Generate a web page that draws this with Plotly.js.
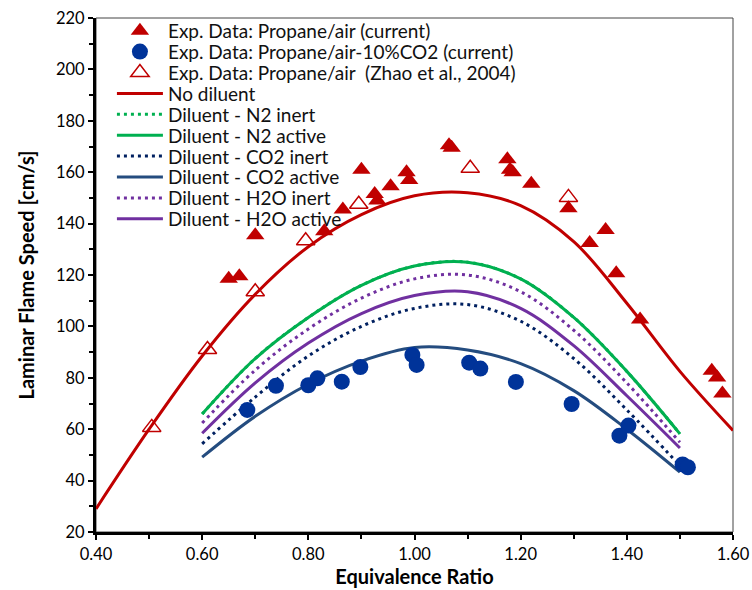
<!DOCTYPE html>
<html>
<head>
<meta charset="utf-8">
<script src="https://cdn.plot.ly/plotly-3.0.1.min.js"></script>
<style>
  html, body { margin: 0; padding: 0; background: #fff; }
  #chart { width: 752px; height: 590px; }
</style>
</head>
<body>
<div id="chart"></div>
<script>
// Experimental laminar flame speeds (equivalence ratio, cm/s)
const expCurrentPhi = [0.65, 0.67, 0.70, 0.83, 0.865, 0.90, 0.925, 0.93, 0.955, 0.985, 0.99, 1.065, 1.07,
                       1.175, 1.18, 1.185, 1.22, 1.29, 1.33, 1.36, 1.38, 1.425, 1.56, 1.57, 1.58];
const expCurrentSL  = [118.5, 119.5, 135.5, 137, 145.5, 161, 151.5, 149, 154.5, 160, 157, 170.5, 169.5,
                       165, 161, 160, 155.5, 146, 132.5, 137.5, 120.7, 102.7, 82.7, 80.1, 73.9];

const expCO2Phi = [0.685, 0.739, 0.80, 0.817, 0.863, 0.898, 0.996, 1.004, 1.103, 1.124, 1.191, 1.296,
                   1.386, 1.403, 1.505, 1.515];
const expCO2SL  = [67.5, 76.9, 77.1, 79.8, 78.5, 84.2, 88.9, 85.0, 85.9, 83.6, 78.4, 69.8,
                   57.5, 61.4, 46.3, 45.2];

const expZhaoPhi = [0.505, 0.61, 0.70, 0.795, 0.895, 1.105, 1.29];
const expZhaoSL  = [60.7, 91.0, 113.5, 133.3, 147.5, 161.5, 150.2];

// Computed flame speeds
const phiFull = [0.40, 0.50, 0.60, 0.70, 0.80, 0.90, 1.00, 1.10, 1.20, 1.30, 1.40, 1.50, 1.60];
const noDiluent = [29.0, 60.0, 88.5, 112.5, 131.0, 143.5, 150.8, 152.0, 147.0, 133.0, 109.0, 82.5, 59.5];

const phiDil = [0.60, 0.70, 0.80, 0.90, 1.00, 1.10, 1.20, 1.30, 1.40, 1.50];
const n2Inert   = [65.9, 87.5, 103.5, 116.0, 123.5, 125.0, 118.5, 103.5, 82.5, 58.2];
const n2Active  = [65.9, 87.5, 103.5, 116.0, 123.5, 125.0, 118.5, 103.5, 82.5, 58.2];
const co2Inert  = [54.3, 72.5, 88.5, 100.0, 107.0, 108.5, 102.0, 87.5, 67.5, 45.8];
const co2Active = [49.1, 65.0, 77.5, 86.5, 91.8, 90.8, 85.5, 75.0, 60.0, 43.3];
const h2oInert  = [62.4, 83.0, 99.0, 111.0, 118.5, 120.0, 113.5, 98.5, 78.0, 54.9];
const h2oActive = [58.4, 78.0, 93.5, 105.0, 112.0, 113.5, 107.0, 92.5, 73.0, 52.7];

const RED = '#C00000', BLUE = '#003399', GREEN = '#00B050',
      NAVY = '#002060', STEEL = '#244C7F', PURPLE = '#7030A0';

function curve(x, y, name, color, dash, rank) {
  return {
    x: x, y: y, name: name, type: 'scatter', mode: 'lines',
    line: { color: color, width: 3, dash: dash, shape: 'spline', smoothing: 1 },
    legendrank: rank
  };
}

const traces = [
  curve(phiFull, noDiluent, 'No diluent', RED, 'solid', 4),
  curve(phiDil, n2Inert, 'Diluent - N2 inert', GREEN, '3px,4px', 5),
  curve(phiDil, n2Active, 'Diluent - N2 active', GREEN, 'solid', 6),
  curve(phiDil, co2Inert, 'Diluent - CO2 inert', NAVY, '3px,4px', 7),
  curve(phiDil, co2Active, 'Diluent - CO2 active', STEEL, 'solid', 8),
  curve(phiDil, h2oInert, 'Diluent - H2O inert', PURPLE, '3px,4px', 9),
  curve(phiDil, h2oActive, 'Diluent - H2O active', PURPLE, 'solid', 10),
  {
    x: expCurrentPhi, y: expCurrentSL, name: 'Exp. Data: Propane/air (current)',
    type: 'scatter', mode: 'markers', legendrank: 1,
    marker: { symbol: 'triangle-up', size: 16, color: RED }
  },
  {
    x: expCO2Phi, y: expCO2SL, name: 'Exp. Data: Propane/air-10%CO2 (current)',
    type: 'scatter', mode: 'markers', legendrank: 2,
    marker: { symbol: 'circle', size: 16, color: BLUE }
  },
  {
    x: expZhaoPhi, y: expZhaoSL, name: 'Exp. Data: Propane/air\u00a0\u00a0(Zhao et al., 2004)',
    type: 'scatter', mode: 'markers', legendrank: 3,
    marker: { symbol: 'triangle-up-open', size: 16, color: RED, line: { color: RED, width: 1.5 } }
  }
];

const FONT = 'Lato, "Open Sans", sans-serif';

const layout = {
  width: 752, height: 590,
  margin: { l: 96, r: 19, t: 15, b: 58 },
  paper_bgcolor: '#fff', plot_bgcolor: '#fff',
  font: { family: FONT, color: '#000', size: 16 },
  showlegend: true,
  legend: {
    x: 0.025, y: 1.012, xanchor: 'left', yanchor: 'top',
    bgcolor: 'rgba(0,0,0,0)', borderwidth: 0,
    font: { family: FONT, size: 19, color: '#111' },
    itemwidth: 46, tracegroupgap: 0
  },
  xaxis: {
    range: [0.4, 1.6], dtick: 0.2, tick0: 0.4, tickformat: '.2f',
    showgrid: false, zeroline: false,
    showline: true, linecolor: '#000', linewidth: 3,
    ticks: 'outside', ticklen: 5, tickwidth: 2, tickcolor: '#000',
    minor: { dtick: 0.1, ticks: 'outside', ticklen: 4, tickwidth: 2, tickcolor: '#000', showgrid: false },
    tickfont: { family: FONT, size: 16.5 },
    title: { text: '<b>Equivalence Ratio</b>', font: { family: FONT, size: 20 }, standoff: 4 }
  },
  yaxis: {
    range: [20, 220], dtick: 20, tick0: 20,
    showgrid: false, zeroline: false,
    showline: true, linecolor: '#000', linewidth: 3,
    ticks: 'outside', ticklen: 5, tickwidth: 2, tickcolor: '#000',
    minor: { dtick: 10, ticks: 'outside', ticklen: 4, tickwidth: 2, tickcolor: '#000', showgrid: false },
    tickfont: { family: FONT, size: 16.5 },
    title: { text: '<b>Laminar Flame Speed [cm/s]</b>', font: { family: FONT, size: 20 }, standoff: 16 }
  },
  shapes: [
    { type: 'rect', xref: 'paper', yref: 'paper', x0: 0, x1: 1, y0: 0, y1: 1,
      line: { color: '#444', width: 1 }, layer: 'below' }
  ]
};

// Tighten the legend row pitch to a compact, Excel-like spacing
const ROW_PITCH = 20.9;
Plotly.newPlot('chart', traces, layout, { displayModeBar: false, staticPlot: true }).then(function (gd) {
  const items = gd.querySelectorAll('.legend .traces');
  let y0 = null;
  items.forEach(function (g, i) {
    const m = /translate\(\s*([-\d.e]+)[ ,]+([-\d.e]+)\s*\)/.exec(g.getAttribute('transform') || '');
    if (!m) return;
    if (y0 === null) y0 = parseFloat(m[2]);
    g.setAttribute('transform', 'translate(' + m[1] + ',' + (y0 + i * ROW_PITCH) + ')');
  });
});
</script>
</body>
</html>
